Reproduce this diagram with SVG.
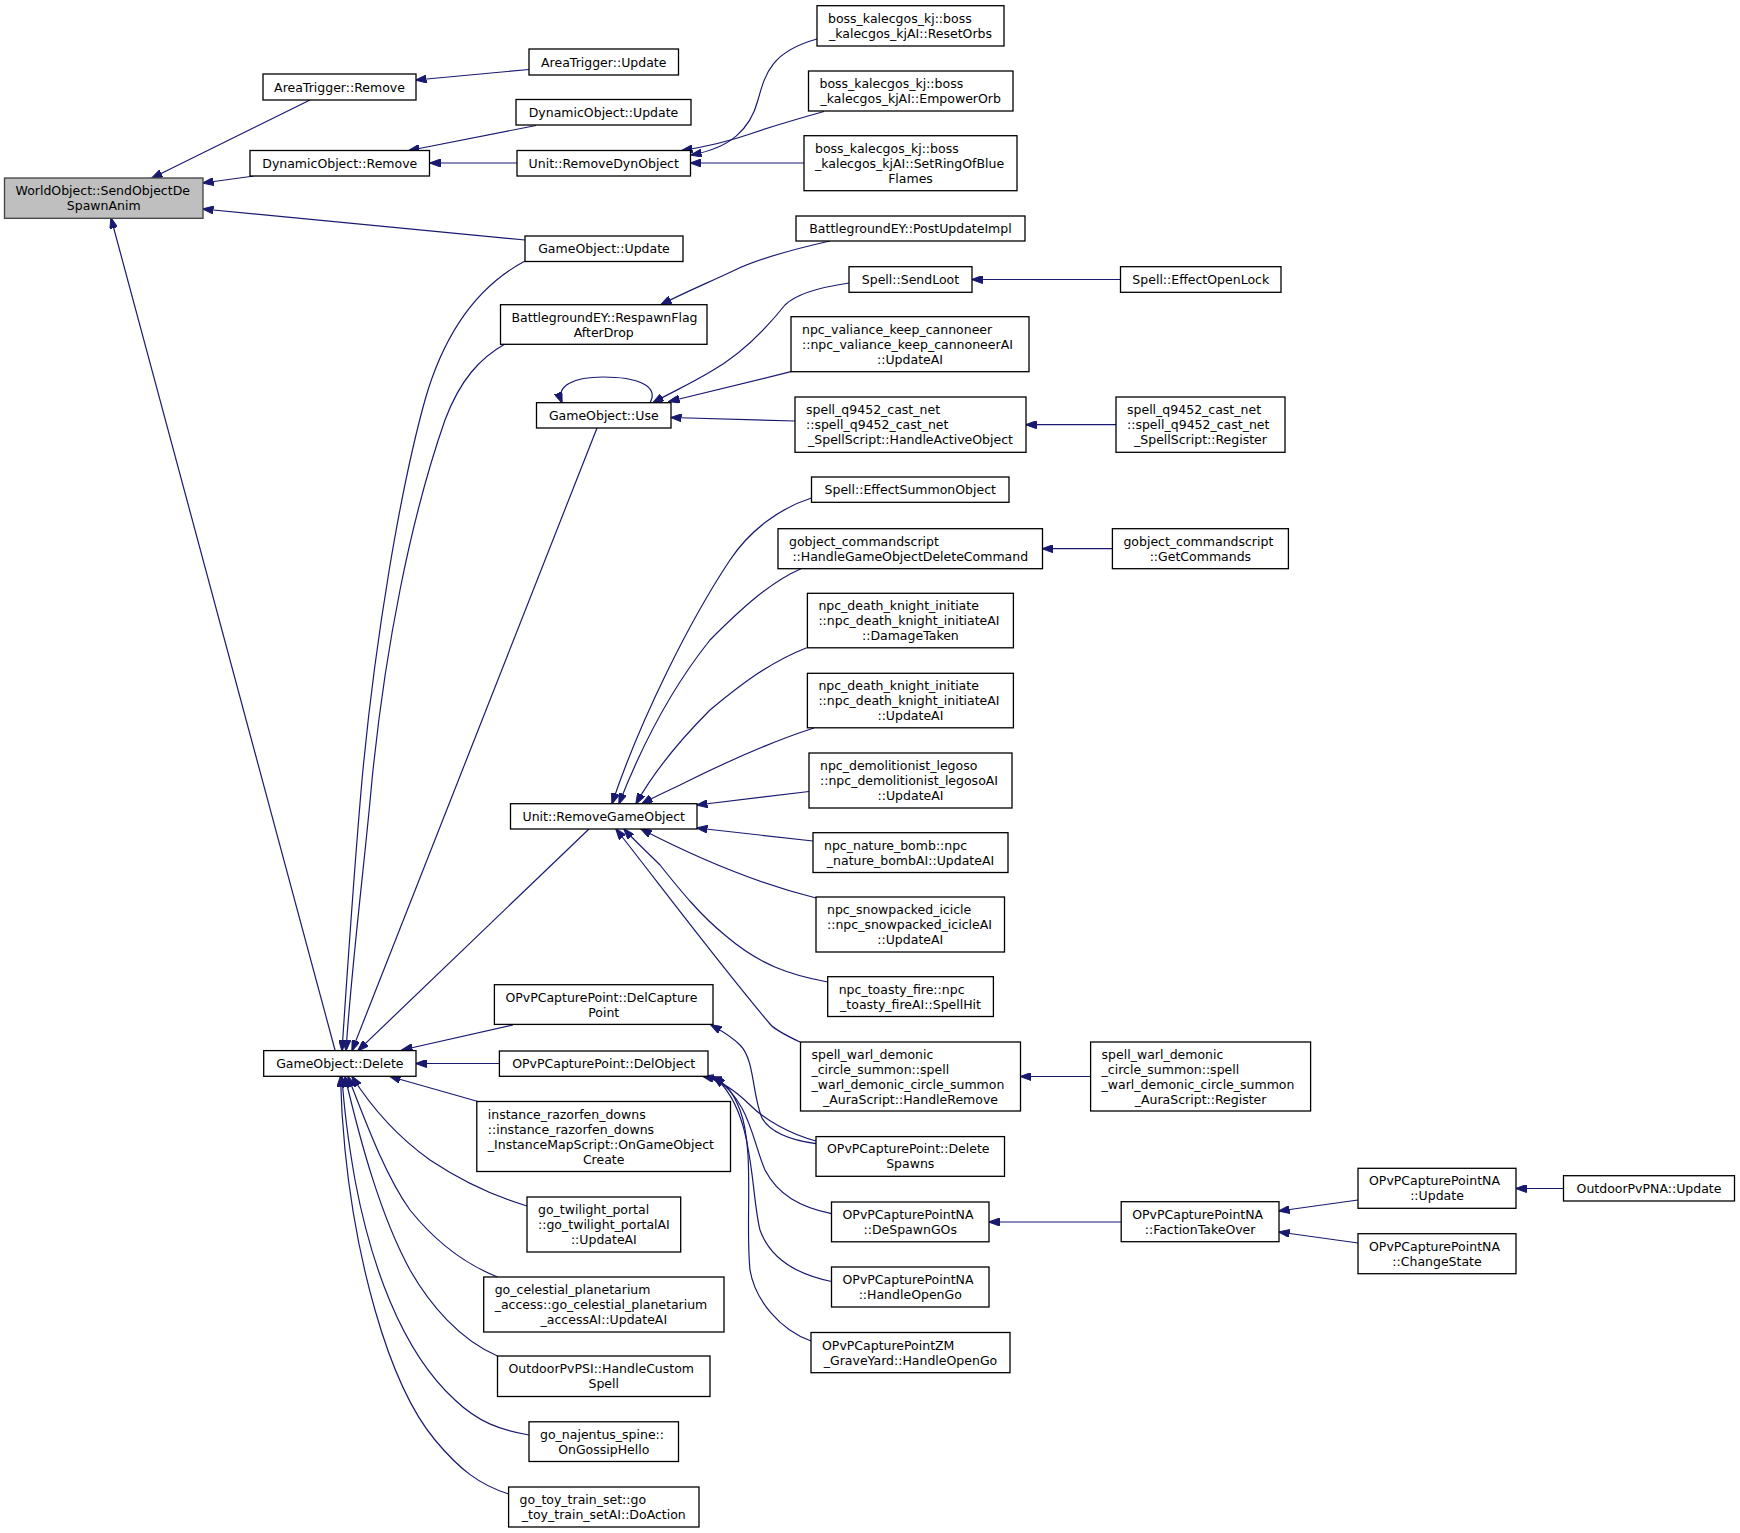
<svg xmlns="http://www.w3.org/2000/svg" width="1740" height="1533" viewBox="0 0 1740 1533">
<defs>
<marker id="ah" viewBox="0 0 11 8" refX="10.5" refY="4" markerWidth="11" markerHeight="8" markerUnits="userSpaceOnUse" orient="auto">
<path d="M0,0 L11,4 L0,8 z" fill="#191970" stroke="#191970" stroke-width="1"/>
</marker>
</defs>
<style>
.n rect{fill:#ffffff;stroke:#000000;stroke-width:1.3}
.n.root rect{fill:#bfbfbf;stroke:#404040}
text{font-family:"DejaVu Sans","Liberation Sans",sans-serif;font-size:12.5px;fill:#000000}
.c{text-anchor:middle}
.e path{fill:none;stroke:#191970;stroke-width:1.2;marker-end:url(#ah)}
</style>
<rect x="0" y="0" width="1740" height="1533" fill="#ffffff"/>
<g class="e">
<path d="M310,100 L152,178"/>
<path d="M254,176 L203,183"/>
<path d="M525,240 L203,209"/>
<path d="M335,1050 L111,218"/>
<path d="M529,69.5 L416,80"/>
<path d="M536,125.5 L409,150.5"/>
<path d="M517,163 L430,163"/>
<path d="M817,39 C770,52 765,75 758,100 C750,130 730,148 691,155"/>
<path d="M824,111.5 C790,121 770,127 750,134 C730,141 710,146 682,150.5"/>
<path d="M804,163 L690.5,163"/>
<path d="M830,241 C790,250 760,258 735,270 C710,282 685,292 661,304.7"/>
<path d="M849,283 C815,288 795,295 785,305 C765,330 740,355 710,372 C690,384 670,393 653,402.7"/>
<path d="M791,371.7 L669,401.5"/>
<path d="M795,421 L671,417.5"/>
<path d="M650,402.7 C660,385 635,377 603,377 C575,377 555,385 562,402.7"/>
<path d="M1116,424.7 L1026,424.7"/>
<path d="M1112.4,548.7 L1042.5,548.7"/>
<path d="M1120.5,279.5 L972,279.5"/>
<path d="M811.5,498 C780,508 750,530 730,560 C690,620 640,720 612,803.7"/>
<path d="M801,568.7 C770,582 740,610 710,640 C670,690 640,750 619,803.7"/>
<path d="M806.7,647.7 C770,662 740,685 710,710 C680,740 655,770 636,803.7"/>
<path d="M814,728 C770,742 720,765 680,785 C665,792 652,798 642,803.7"/>
<path d="M809,791.5 L697,805"/>
<path d="M813,841 L697,828"/>
<path d="M816,898 C780,889 720,870 641,829"/>
<path d="M827.7,982 C790,975 760,965 726,936 C700,915 680,890 660,865 C645,850 632,838 624,829"/>
<path d="M800,1042 C785,1035 775,1030 770,1024 C720,965 660,885 616,829"/>
<path d="M525,261 C480,285 445,330 425,400 C400,490 375,640 362,780 C355,860 348,960 342,1050.6"/>
<path d="M505,344 C480,358 460,380 445,420 C410,520 385,650 372,780 C365,860 352,960 346,1050.6"/>
<path d="M597,428 L352,1050.6"/>
<path d="M589,829 L358,1050.6"/>
<path d="M513,1025 L402,1050"/>
<path d="M499.4,1063.5 L416,1063.5"/>
<path d="M478,1101.5 L390,1076.5"/>
<path d="M527,1206 C490,1195 460,1180 430,1160 C395,1135 370,1105 352,1076.5"/>
<path d="M497.5,1277 C460,1262 430,1235 410,1210 C385,1175 365,1120 348,1076.5"/>
<path d="M497.5,1356 C460,1340 430,1305 410,1270 C380,1215 360,1140 345,1076.5"/>
<path d="M529,1435 C500,1430 478,1422 455,1400 C400,1350 370,1260 355,1180 C348,1140 344,1110 342,1076.5"/>
<path d="M508.6,1494 C480,1485 460,1470 435,1440 C385,1380 355,1250 345,1150 C342,1120 341,1100 340.5,1076.5"/>
<path d="M816,1143.6 C790,1140 770,1132 762,1118 C752,1095 755,1060 740,1045 C730,1035 720,1030 711,1025"/>
<path d="M816,1141 C790,1134 765,1120 750,1105 C735,1090 720,1080 703,1076.3"/>
<path d="M831.5,1213.7 C800,1207 778,1195 765,1170 C752,1140 750,1100 713,1077"/>
<path d="M831.5,1281.5 C795,1274 770,1258 760,1230 C750,1190 755,1110 714,1077"/>
<path d="M811,1341 C780,1330 755,1300 750,1270 C745,1220 755,1150 740,1110 C732,1090 725,1082 711,1077"/>
<path d="M1121,1222 L989,1222"/>
<path d="M1358,1200 L1279,1211"/>
<path d="M1358,1243 L1279,1232"/>
<path d="M1563.5,1188.5 L1516,1188.5"/>
<path d="M1090.6,1076.5 L1020.6,1076.5"/>
</g>
<g id="n1" class="n root"><rect x="4.5" y="178" width="198.5" height="40.3"/><text x="15.5" y="195.2">WorldObject::SendObjectDe</text><text class="c" x="103.75" y="210.2">SpawnAnim</text></g>
<g id="n2" class="n"><rect x="263" y="74" width="153" height="26"/><text class="c" x="339.5" y="91.5">AreaTrigger::Remove</text></g>
<g id="n3" class="n"><rect x="529" y="49" width="149.5" height="26"/><text class="c" x="603.75" y="66.5">AreaTrigger::Update</text></g>
<g id="n4" class="n"><rect x="250" y="150.5" width="179.5" height="25.5"/><text class="c" x="339.75" y="167.75">DynamicObject::Remove</text></g>
<g id="n5" class="n"><rect x="516" y="99.5" width="175" height="25.5"/><text class="c" x="603.5" y="116.75">DynamicObject::Update</text></g>
<g id="n6" class="n"><rect x="517" y="150.5" width="173.5" height="25.5"/><text class="c" x="603.75" y="167.75">Unit::RemoveDynObject</text></g>
<g id="n7" class="n"><rect x="817" y="5.7" width="187" height="40.3"/><text x="828" y="22.85">boss_kalecgos_kj::boss</text><text class="c" x="910.5" y="37.85">_kalecgos_kjAI::ResetOrbs</text></g>
<g id="n8" class="n"><rect x="808.5" y="71" width="204.5" height="40"/><text x="819.5" y="88">boss_kalecgos_kj::boss</text><text class="c" x="910.75" y="103">_kalecgos_kjAI::EmpowerOrb</text></g>
<g id="n9" class="n"><rect x="804" y="135.7" width="213" height="55"/><text x="815" y="152.7">boss_kalecgos_kj::boss</text><text x="815" y="167.7">_kalecgos_kjAI::SetRingOfBlue</text><text class="c" x="910.5" y="182.7">Flames</text></g>
<g id="n10" class="n"><rect x="525" y="236" width="158" height="25.5"/><text class="c" x="604" y="253.25">GameObject::Update</text></g>
<g id="n11" class="n"><rect x="796" y="216" width="229" height="25"/><text class="c" x="910.5" y="233">BattlegroundEY::PostUpdateImpl</text></g>
<g id="n12" class="n"><rect x="500.5" y="304.7" width="206.5" height="39.6"/><text x="511.5" y="321.5">BattlegroundEY::RespawnFlag</text><text class="c" x="603.75" y="336.5">AfterDrop</text></g>
<g id="n13" class="n"><rect x="849" y="266.7" width="123" height="25.6"/><text class="c" x="910.5" y="284">Spell::SendLoot</text></g>
<g id="n14" class="n"><rect x="1120.5" y="266.7" width="160.5" height="25.6"/><text class="c" x="1200.75" y="284">Spell::EffectOpenLock</text></g>
<g id="n15" class="n"><rect x="536.5" y="402.7" width="134.5" height="25.3"/><text class="c" x="603.75" y="419.85">GameObject::Use</text></g>
<g id="n16" class="n"><rect x="791" y="316.7" width="238" height="55"/><text x="802" y="333.7">npc_valiance_keep_cannoneer</text><text x="802" y="348.7">::npc_valiance_keep_cannoneerAI</text><text class="c" x="910" y="363.7">::UpdateAI</text></g>
<g id="n17" class="n"><rect x="795" y="397" width="231" height="55.3"/><text x="806" y="414.15">spell_q9452_cast_net</text><text x="806" y="429.15">::spell_q9452_cast_net</text><text class="c" x="910.5" y="444.15">_SpellScript::HandleActiveObject</text></g>
<g id="n18" class="n"><rect x="1116" y="397" width="169" height="55.3"/><text x="1127" y="414.15">spell_q9452_cast_net</text><text x="1127" y="429.15">::spell_q9452_cast_net</text><text class="c" x="1200.5" y="444.15">_SpellScript::Register</text></g>
<g id="n19" class="n"><rect x="811.5" y="477" width="197.5" height="25.3"/><text class="c" x="910.25" y="494.15">Spell::EffectSummonObject</text></g>
<g id="n20" class="n"><rect x="778" y="528.7" width="264.5" height="40"/><text x="789" y="545.7">gobject_commandscript</text><text class="c" x="910.25" y="560.7">::HandleGameObjectDeleteCommand</text></g>
<g id="n21" class="n"><rect x="1112.4" y="528.7" width="176" height="40"/><text x="1123.4" y="545.7">gobject_commandscript</text><text class="c" x="1200.4" y="560.7">::GetCommands</text></g>
<g id="n22" class="n"><rect x="807.4" y="593.3" width="206" height="54.5"/><text x="818.4" y="610.05">npc_death_knight_initiate</text><text x="818.4" y="625.05">::npc_death_knight_initiateAI</text><text class="c" x="910.4" y="640.05">::DamageTaken</text></g>
<g id="n23" class="n"><rect x="807.4" y="673.3" width="206" height="54.5"/><text x="818.4" y="690.05">npc_death_knight_initiate</text><text x="818.4" y="705.05">::npc_death_knight_initiateAI</text><text class="c" x="910.4" y="720.05">::UpdateAI</text></g>
<g id="n24" class="n"><rect x="809" y="753" width="203" height="55"/><text x="820" y="770">npc_demolitionist_legoso</text><text x="820" y="785">::npc_demolitionist_legosoAI</text><text class="c" x="910.5" y="800">::UpdateAI</text></g>
<g id="n25" class="n"><rect x="510.5" y="803.7" width="186.5" height="25.3"/><text class="c" x="603.75" y="820.85">Unit::RemoveGameObject</text></g>
<g id="n26" class="n"><rect x="813" y="832.7" width="195" height="39.8"/><text x="824" y="849.6">npc_nature_bomb::npc</text><text class="c" x="910.5" y="864.6">_nature_bombAI::UpdateAI</text></g>
<g id="n27" class="n"><rect x="816" y="897" width="188.5" height="55"/><text x="827" y="914">npc_snowpacked_icicle</text><text x="827" y="929">::npc_snowpacked_icicleAI</text><text class="c" x="910.25" y="944">::UpdateAI</text></g>
<g id="n28" class="n"><rect x="827.7" y="976.7" width="165.7" height="39.8"/><text x="838.7" y="993.6">npc_toasty_fire::npc</text><text class="c" x="910.55" y="1008.6">_toasty_fireAI::SpellHit</text></g>
<g id="n29" class="n"><rect x="800.5" y="1042" width="220" height="69"/><text x="811.5" y="1058.5">spell_warl_demonic</text><text x="811.5" y="1073.5">_circle_summon::spell</text><text x="811.5" y="1088.5">_warl_demonic_circle_summon</text><text class="c" x="910.5" y="1103.5">_AuraScript::HandleRemove</text></g>
<g id="n30" class="n"><rect x="1090.6" y="1042" width="220" height="69"/><text x="1101.6" y="1058.5">spell_warl_demonic</text><text x="1101.6" y="1073.5">_circle_summon::spell</text><text x="1101.6" y="1088.5">_warl_demonic_circle_summon</text><text class="c" x="1200.6" y="1103.5">_AuraScript::Register</text></g>
<g id="n31" class="n"><rect x="263.7" y="1050.6" width="152.3" height="25.7"/><text class="c" x="339.85" y="1067.95">GameObject::Delete</text></g>
<g id="n32" class="n"><rect x="494.4" y="984.7" width="218.6" height="39.7"/><text x="505.4" y="1001.55">OPvPCapturePoint::DelCapture</text><text class="c" x="603.7" y="1016.55">Point</text></g>
<g id="n33" class="n"><rect x="499.4" y="1051" width="208.6" height="25.3"/><text class="c" x="603.7" y="1068.15">OPvPCapturePoint::DelObject</text></g>
<g id="n34" class="n"><rect x="476.8" y="1101.5" width="253.7" height="70"/><text x="487.8" y="1118.5">instance_razorfen_downs</text><text x="487.8" y="1133.5">::instance_razorfen_downs</text><text x="487.8" y="1148.5">_InstanceMapScript::OnGameObject</text><text class="c" x="603.65" y="1163.5">Create</text></g>
<g id="n35" class="n"><rect x="816" y="1136.6" width="188.5" height="39.7"/><text x="827" y="1153.45">OPvPCapturePoint::Delete</text><text class="c" x="910.25" y="1168.45">Spawns</text></g>
<g id="n36" class="n"><rect x="527" y="1197" width="153.7" height="55"/><text x="538" y="1214">go_twilight_portal</text><text x="538" y="1229">::go_twilight_portalAI</text><text class="c" x="603.85" y="1244">::UpdateAI</text></g>
<g id="n37" class="n"><rect x="831.5" y="1202" width="157.5" height="39.8"/><text x="842.5" y="1218.9">OPvPCapturePointNA</text><text class="c" x="910.25" y="1233.9">::DeSpawnGOs</text></g>
<g id="n38" class="n"><rect x="1121.2" y="1201.7" width="157.8" height="40"/><text x="1132.2" y="1218.7">OPvPCapturePointNA</text><text class="c" x="1200.1" y="1233.7">::FactionTakeOver</text></g>
<g id="n39" class="n"><rect x="1358" y="1168.3" width="158" height="40"/><text x="1369" y="1185.3">OPvPCapturePointNA</text><text class="c" x="1437" y="1200.3">::Update</text></g>
<g id="n40" class="n"><rect x="1358" y="1233.7" width="158" height="40"/><text x="1369" y="1250.7">OPvPCapturePointNA</text><text class="c" x="1437" y="1265.7">::ChangeState</text></g>
<g id="n41" class="n"><rect x="1563.5" y="1175.7" width="171" height="25.3"/><text class="c" x="1649" y="1192.85">OutdoorPvPNA::Update</text></g>
<g id="n42" class="n"><rect x="831.5" y="1267" width="157.5" height="40"/><text x="842.5" y="1284">OPvPCapturePointNA</text><text class="c" x="910.25" y="1299">::HandleOpenGo</text></g>
<g id="n43" class="n"><rect x="483.7" y="1277" width="240.3" height="55"/><text x="494.7" y="1294">go_celestial_planetarium</text><text x="494.7" y="1309">_access::go_celestial_planetarium</text><text class="c" x="603.85" y="1324">_accessAI::UpdateAI</text></g>
<g id="n44" class="n"><rect x="811" y="1332.5" width="199" height="40.2"/><text x="822" y="1349.6">OPvPCapturePointZM</text><text class="c" x="910.5" y="1364.6">_GraveYard::HandleOpenGo</text></g>
<g id="n45" class="n"><rect x="497.5" y="1356" width="212.5" height="40.5"/><text x="508.5" y="1373.25">OutdoorPvPSI::HandleCustom</text><text class="c" x="603.75" y="1388.25">Spell</text></g>
<g id="n46" class="n"><rect x="529" y="1421.8" width="149.5" height="39.7"/><text x="540" y="1438.65">go_najentus_spine::</text><text class="c" x="603.75" y="1453.65">OnGossipHello</text></g>
<g id="n47" class="n"><rect x="508.6" y="1487" width="190.4" height="40"/><text x="519.6" y="1504">go_toy_train_set::go</text><text class="c" x="603.8" y="1519">_toy_train_setAI::DoAction</text></g>
</svg>
